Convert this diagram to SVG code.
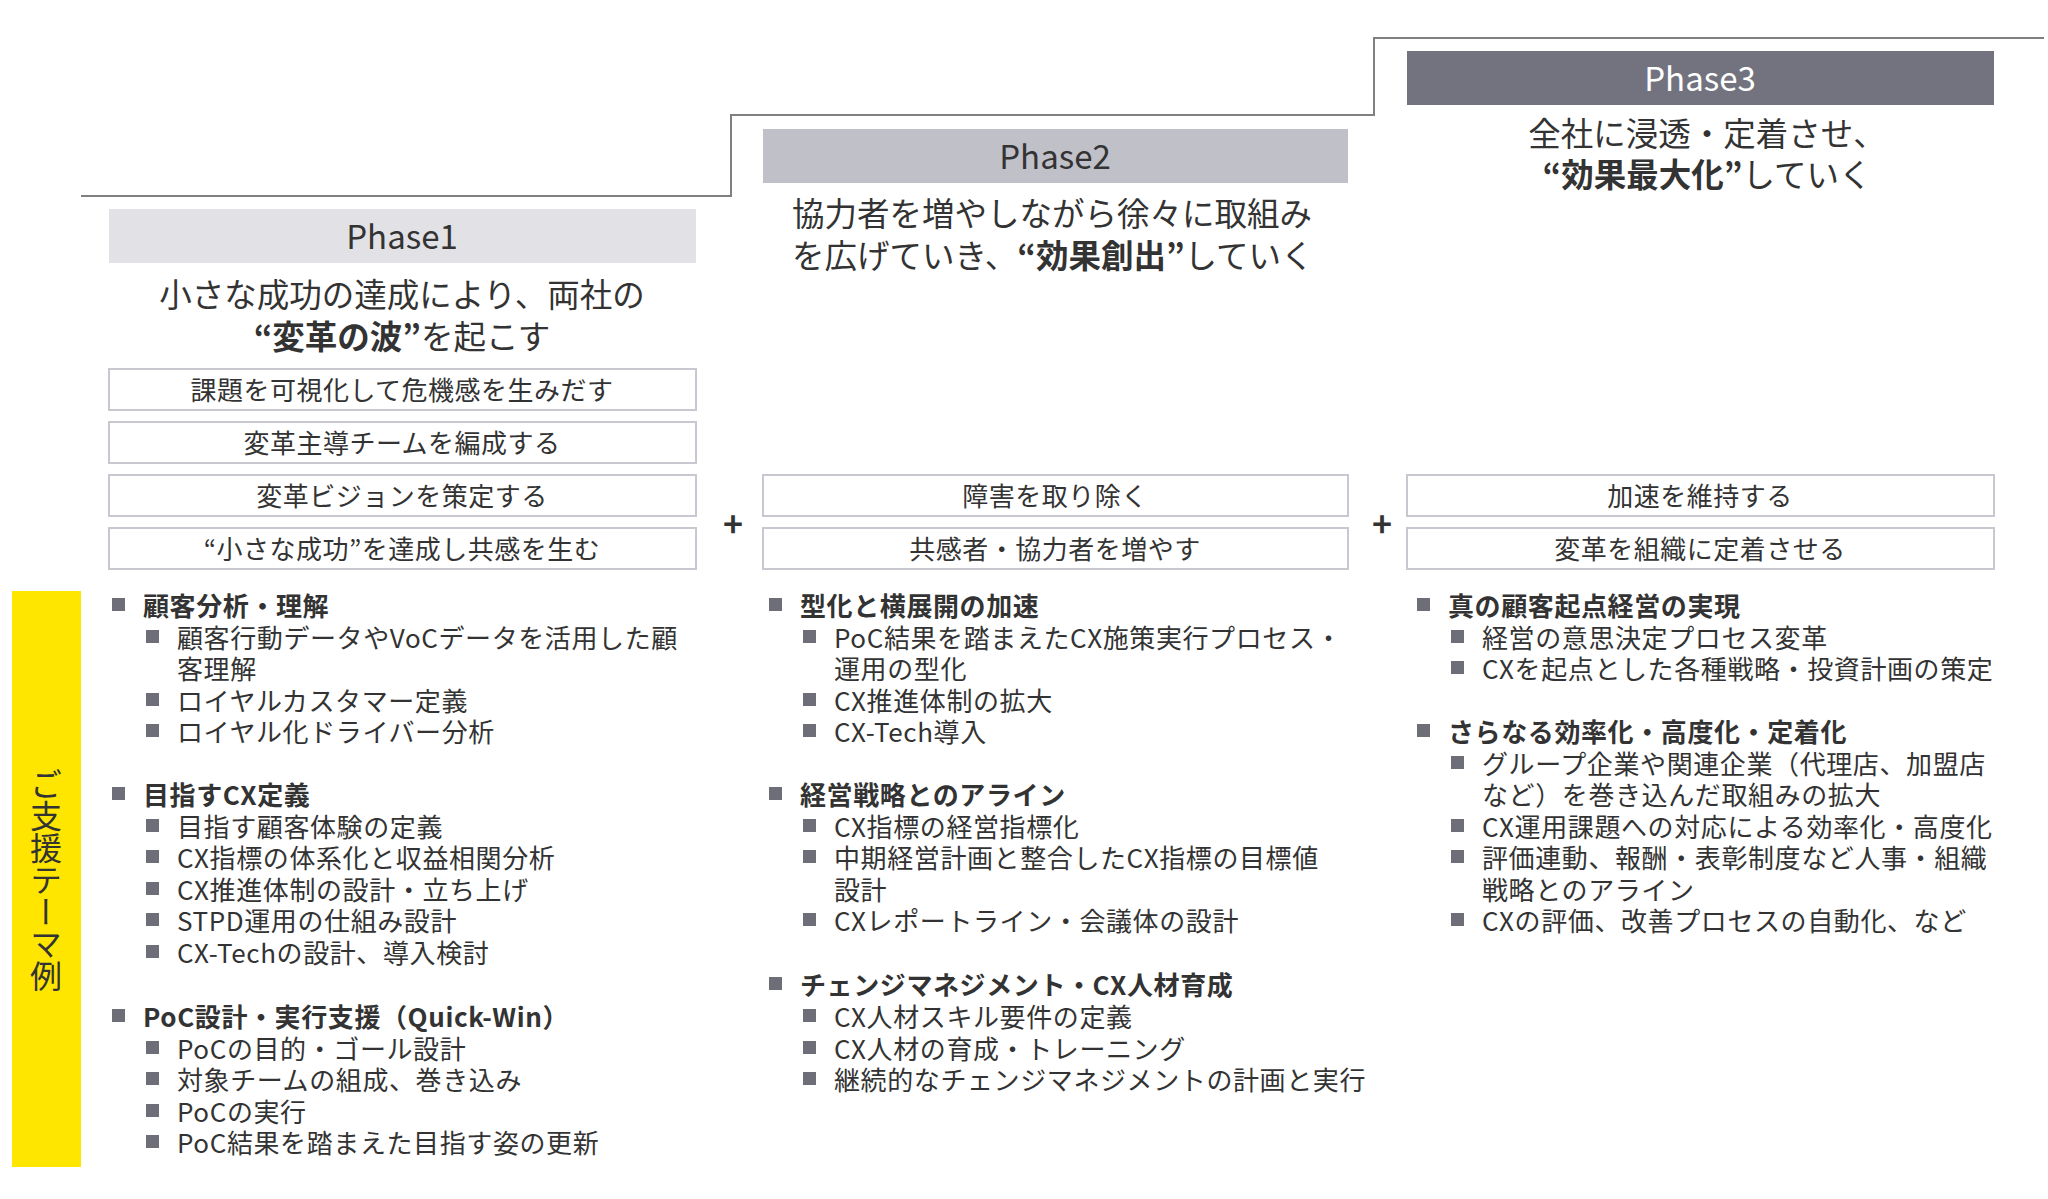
<svg xmlns="http://www.w3.org/2000/svg" width="2048" height="1199" viewBox="0 0 2048 1199">
<style>
text{font-family:"Noto Sans CJK JP","Noto Sans",sans-serif;fill:#333;dominant-baseline:central}
.ph{font-size:33px;text-anchor:middle}
.hd{font-size:32.5px}
.bx{fill:#fff;stroke:#c8c8d0;stroke-width:2}
.bt{font-size:26px;text-anchor:middle;letter-spacing:0.5px}
.li{font-size:26px;letter-spacing:0.6px}
.lh{font-size:26px;font-weight:bold;letter-spacing:0.6px}
.sq{fill:#6e6e78}
</style>
<defs><rect id="sq" class="sq" width="13" height="13"/></defs>
<g id="connectors">
<polyline points="81,196 731,196 731,115 1374,115 1374,38 2044,38" fill="none" stroke="#808080" stroke-width="2"/>
</g>
<g id="phase1">
<rect x="109" y="209" width="587" height="54" fill="#e1e1e6"/>
<text class="ph" x="402" y="235">Phase1</text>
<text class="hd" x="402" y="292" text-anchor="middle">小さな成功の達成により、両社の</text>
<text class="hd" x="402" y="334" text-anchor="middle"><tspan font-weight="bold">“変革の波”</tspan>を起こす</text>
</g>
<g id="phase2">
<rect x="763" y="129" width="585" height="54" fill="#c0c0c8"/>
<text class="ph" x="1055" y="155">Phase2</text>
<text class="hd" x="792" y="211">協力者を増やしながら徐々に取組み</text>
<text class="hd" x="792" y="253">を広げていき、<tspan font-weight="bold">“効果創出”</tspan>していく</text>
</g>
<g id="phase3">
<rect x="1407" y="51" width="587" height="54" fill="#73737f"/>
<text class="ph" x="1700" y="77" style="fill:#fff">Phase3</text>
<text class="hd" x="1707" y="131" text-anchor="middle">全社に浸透・定着させ、</text>
<text class="hd" x="1707" y="172" text-anchor="middle"><tspan font-weight="bold">“効果最大化”</tspan>していく</text>
</g>
<g id="p1boxes">
<rect class="bx" x="109" y="369" width="587" height="41"/><text class="bt" x="402" y="388">課題を可視化して危機感を生みだす</text>
<rect class="bx" x="109" y="422" width="587" height="41"/><text class="bt" x="402" y="441">変革主導チームを編成する</text>
<rect class="bx" x="109" y="475" width="587" height="41"/><text class="bt" x="402" y="494">変革ビジョンを策定する</text>
<rect class="bx" x="109" y="528" width="587" height="41"/><text class="bt" x="402" y="547">“小さな成功”を達成し共感を生む</text>
</g>
<g id="p2boxes">
<rect class="bx" x="763" y="475" width="585" height="41"/><text class="bt" x="1055" y="494">障害を取り除く</text>
<rect class="bx" x="763" y="528" width="585" height="41"/><text class="bt" x="1055" y="547">共感者・協力者を増やす</text>
</g>
<g id="p3boxes">
<rect class="bx" x="1407" y="475" width="587" height="41"/><text class="bt" x="1700" y="494">加速を維持する</text>
<rect class="bx" x="1407" y="528" width="587" height="41"/><text class="bt" x="1700" y="547">変革を組織に定着させる</text>
</g>
<g id="plus">
<text x="733" y="522" font-size="34" font-weight="bold" text-anchor="middle">+</text>
<text x="1382" y="522" font-size="34" font-weight="bold" text-anchor="middle">+</text>
</g>
<g id="side">
<rect x="12" y="591" width="69" height="576" fill="#ffe600"/>
<text x="46" y="880" font-size="32" text-anchor="middle" writing-mode="vertical-rl" style="dominant-baseline:auto">ご支援テーマ例</text>
</g>
<g id="list1" transform="translate(0,-5)">
<use href="#sq" x="112" y="603"/><text class="lh" x="143" y="609">顧客分析・理解</text>
<use href="#sq" x="146" y="635"/><text class="li" x="177" y="641">顧客行動データやVoCデータを活用した顧</text>
<text class="li" x="177" y="672">客理解</text>
<use href="#sq" x="146" y="698"/><text class="li" x="177" y="704">ロイヤルカスタマー定義</text>
<use href="#sq" x="146" y="729"/><text class="li" x="177" y="735">ロイヤル化ドライバー分析</text>
<use href="#sq" x="112" y="792"/><text class="lh" x="143" y="798">目指すCX定義</text>
<use href="#sq" x="146" y="824"/><text class="li" x="177" y="830">目指す顧客体験の定義</text>
<use href="#sq" x="146" y="855"/><text class="li" x="177" y="861">CX指標の体系化と収益相関分析</text>
<use href="#sq" x="146" y="887"/><text class="li" x="177" y="893">CX推進体制の設計・立ち上げ</text>
<use href="#sq" x="146" y="918"/><text class="li" x="177" y="924">STPD運用の仕組み設計</text>
<use href="#sq" x="146" y="950"/><text class="li" x="177" y="956">CX-Techの設計、導入検討</text>
<use href="#sq" x="112" y="1014"/><text class="lh" x="143" y="1020">PoC設計・実行支援（Quick-Win）</text>
<use href="#sq" x="146" y="1046"/><text class="li" x="177" y="1052">PoCの目的・ゴール設計</text>
<use href="#sq" x="146" y="1077"/><text class="li" x="177" y="1083">対象チームの組成、巻き込み</text>
<use href="#sq" x="146" y="1109"/><text class="li" x="177" y="1115">PoCの実行</text>
<use href="#sq" x="146" y="1140"/><text class="li" x="177" y="1146">PoC結果を踏まえた目指す姿の更新</text>
</g>
<g id="list2" transform="translate(0,-5)">
<use href="#sq" x="769" y="603"/><text class="lh" x="800" y="609">型化と横展開の加速</text>
<use href="#sq" x="803" y="635"/><text class="li" x="834" y="641">PoC結果を踏まえたCX施策実行プロセス・</text>
<text class="li" x="834" y="672">運用の型化</text>
<use href="#sq" x="803" y="698"/><text class="li" x="834" y="704">CX推進体制の拡大</text>
<use href="#sq" x="803" y="729"/><text class="li" x="834" y="735">CX-Tech導入</text>
<use href="#sq" x="769" y="792"/><text class="lh" x="800" y="798">経営戦略とのアライン</text>
<use href="#sq" x="803" y="824"/><text class="li" x="834" y="830">CX指標の経営指標化</text>
<use href="#sq" x="803" y="855"/><text class="li" x="834" y="861">中期経営計画と整合したCX指標の目標値</text>
<text class="li" x="834" y="893">設計</text>
<use href="#sq" x="803" y="918"/><text class="li" x="834" y="924">CXレポートライン・会議体の設計</text>
<use href="#sq" x="769" y="982"/><text class="lh" x="800" y="988">チェンジマネジメント・CX人材育成</text>
<use href="#sq" x="803" y="1014"/><text class="li" x="834" y="1020">CX人材スキル要件の定義</text>
<use href="#sq" x="803" y="1046"/><text class="li" x="834" y="1052">CX人材の育成・トレーニング</text>
<use href="#sq" x="803" y="1077"/><text class="li" x="834" y="1083">継続的なチェンジマネジメントの計画と実行</text>
</g>
<g id="list3" transform="translate(0,-5)">
<use href="#sq" x="1417" y="603"/><text class="lh" x="1448" y="609">真の顧客起点経営の実現</text>
<use href="#sq" x="1451" y="635"/><text class="li" x="1482" y="641">経営の意思決定プロセス変革</text>
<use href="#sq" x="1451" y="666"/><text class="li" x="1482" y="672">CXを起点とした各種戦略・投資計画の策定</text>
<use href="#sq" x="1417" y="729"/><text class="lh" x="1448" y="735">さらなる効率化・高度化・定着化</text>
<use href="#sq" x="1451" y="761"/><text class="li" x="1482" y="767">グループ企業や関連企業（代理店、加盟店</text>
<text class="li" x="1482" y="798">など）を巻き込んだ取組みの拡大</text>
<use href="#sq" x="1451" y="824"/><text class="li" x="1482" y="830">CX運用課題への対応による効率化・高度化</text>
<use href="#sq" x="1451" y="855"/><text class="li" x="1482" y="861">評価連動、報酬・表彰制度など人事・組織</text>
<text class="li" x="1482" y="893">戦略とのアライン</text>
<use href="#sq" x="1451" y="918"/><text class="li" x="1482" y="924">CXの評価、改善プロセスの自動化、など</text>
</g>
</svg>
